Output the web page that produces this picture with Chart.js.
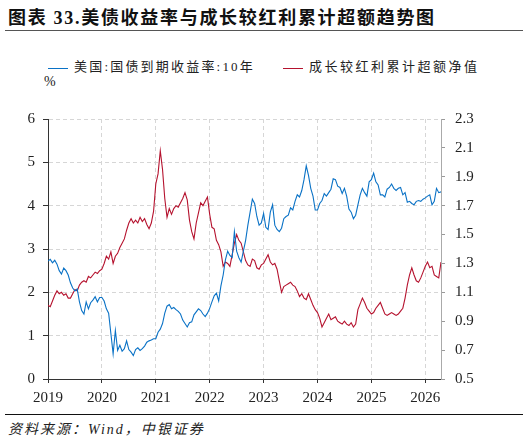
<!DOCTYPE html>
<html lang="zh">
<head>
<meta charset="UTF-8" />
<title>美债收益率与成长较红利累计超额趋势图</title>
<script src="https://cdn.jsdelivr.net/npm/chart.js"></script>
<style>
    body {
        margin: 0;
        width: 528px;
        height: 440px;
        background: #fff;
        position: relative;
        overflow: hidden;
        color: #111;
    }

    .title {
        position: absolute;
        left: 8px;
        top: 3px;
        font-family: 'Liberation Serif', 'Noto Sans CJK SC', serif;
        font-weight: bold;
        font-size: 18px;
        letter-spacing: 1.7px;
        white-space: nowrap;
    }

    .rule-top {
        position: absolute;
        left: 5px;
        top: 30px;
        width: 518px;
        border-top: 1px solid #555;
    }

    .legend {
        position: absolute;
        top: 56px;
        font-family: 'Liberation Serif', 'Noto Sans CJK SC', serif;
        font-size: 13px;
        white-space: nowrap;
        color: #222;
    }

    .legend span.mark {
        display: inline-block;
        width: 20px;
        height: 0;
        border-top: 1.5px solid;
        vertical-align: middle;
        margin-right: 6px;
    }

    .unit {
        position: absolute;
        left: 44px;
        top: 74px;
        font-family: 'Liberation Serif', serif;
        font-size: 14px;
        color: #222;
    }

    #wrap {
        position: absolute;
        left: 0;
        top: 100px;
        width: 528px;
        height: 305px;
    }

    .rule-bottom {
        position: absolute;
        left: 5px;
        top: 414px;
        width: 518px;
        border-top: 1.5px solid #111;
    }

    .source {
        position: absolute;
        left: 8px;
        top: 418px;
        font-family: 'Liberation Serif', 'Noto Sans CJK SC', serif;
        font-style: italic;
        font-size: 14px;
        letter-spacing: 2px;
        color: #222;
    }
</style>
</head>
<body>
<div class="title">图表 33.美债收益率与成长较红利累计超额趋势图</div>
<div class="rule-top"></div>
<div class="legend" style="left:48px; letter-spacing:2.2px;"><span class="mark" style="color:#0a72c6"></span>美国:国债到期收益率:10年</div>
<div class="legend" style="left:283px; letter-spacing:2.5px;"><span class="mark" style="color:#b5122e"></span>成长较红利累计超额净值</div>
<div class="unit">%</div>
<div id="wrap"><canvas id="chart"></canvas></div>
<div class="rule-bottom"></div>
<div class="source">资料来源：Wind，中银证券</div>

<script>
    // half-month steps from 2019-01 to 2026-04
    const dates = [];
    for (let i = 0; i < 176; i++) dates.push(2019 + i / 24);

    // 美国:国债到期收益率:10年 (%)
    const ust10y = [
        2.72, 2.76, 2.68, 2.74, 2.65, 2.50, 2.42, 2.56, 2.50, 2.40, 2.22, 2.10,
        2.03, 2.08, 1.78, 1.58, 1.50, 1.78, 1.62, 1.76, 1.82, 1.90, 1.78, 1.88,
        1.88, 1.80, 1.62, 1.52, 1.05, 0.58, 1.12, 0.66, 0.78, 0.64, 0.70, 0.88,
        0.68, 0.62, 0.54, 0.68, 0.72, 0.66, 0.70, 0.76, 0.85, 0.88, 0.90, 0.93,
        0.93, 1.08, 1.15, 1.28, 1.52, 1.68, 1.72, 1.62, 1.65, 1.60, 1.56, 1.50,
        1.36, 1.28, 1.20, 1.30, 1.32, 1.48, 1.55, 1.62, 1.58, 1.50, 1.44, 1.52,
        1.63, 1.78, 1.92, 1.98, 1.80, 2.15, 2.40, 2.75, 2.95, 2.85, 2.80, 3.40,
        2.95, 2.80, 2.70, 2.95, 3.20, 3.55, 3.85, 4.15, 4.05, 3.75, 3.55, 3.60,
        3.82, 3.50, 3.45, 3.85, 4.02, 3.55, 3.45, 3.40, 3.48, 3.70, 3.75, 3.78,
        3.95, 3.90, 4.10, 4.25, 4.20, 4.35, 4.60, 4.92, 4.70, 4.40, 4.22, 3.90,
        3.90, 4.05, 4.12, 4.28, 4.22, 4.30, 4.38, 4.62, 4.60, 4.45, 4.42, 4.28,
        4.40, 4.22, 3.92, 3.85, 3.70, 3.78, 4.02, 4.25, 4.40, 4.30, 4.22, 4.55,
        4.60, 4.75, 4.55, 4.48, 4.25, 4.25, 4.20, 4.38, 4.42, 4.50, 4.40, 4.35,
        4.40, 4.42, 4.25, 4.30, 4.08, 4.10, 4.05, 4.02, 4.10, 4.12, 4.10, 4.15,
        4.18, 4.22, 4.25, 4.02, 4.10, 4.40, 4.30, 4.32
    ];

    // 成长较红利累计超额净值 (right axis)
    const growthExcess = [
        1.01, 1.00, 1.04, 1.08, 1.11, 1.09, 1.10, 1.08, 1.09, 1.06, 1.06, 1.09,
        1.12, 1.11, 1.15, 1.17, 1.18, 1.17, 1.21, 1.20, 1.22, 1.24, 1.23, 1.25,
        1.26, 1.30, 1.35, 1.33, 1.38, 1.30, 1.35, 1.37, 1.41, 1.44, 1.47, 1.53,
        1.58, 1.61, 1.58, 1.60, 1.58, 1.62, 1.59, 1.61, 1.57, 1.54, 1.58, 1.66,
        1.85, 1.92, 2.08, 1.95, 1.75, 1.62, 1.68, 1.64, 1.68, 1.70, 1.69, 1.72,
        1.75, 1.79, 1.74, 1.60, 1.52, 1.47, 1.58, 1.65, 1.72, 1.70, 1.73, 1.76,
        1.64, 1.55, 1.54, 1.46, 1.43, 1.38, 1.28, 1.31, 1.30, 1.28, 1.36, 1.44,
        1.50, 1.46, 1.44, 1.38, 1.32, 1.29, 1.28, 1.33, 1.32, 1.27, 1.26, 1.29,
        1.30, 1.33, 1.36, 1.31, 1.29, 1.30, 1.26, 1.18, 1.10, 1.14, 1.15, 1.16,
        1.17, 1.15, 1.14, 1.11, 1.07, 1.09, 1.06, 1.05, 1.09, 1.05, 1.01, 0.98,
        0.96, 0.92, 0.86, 0.89, 0.92, 0.95, 0.91, 0.92, 0.93, 0.90, 0.89, 0.88,
        0.90, 0.88, 0.87, 0.89, 0.86, 0.88, 0.98, 1.02, 1.06, 1.03, 0.99, 0.97,
        0.95, 0.96, 0.99, 1.01, 1.03, 0.99, 0.95, 0.94, 0.95, 0.96, 0.95, 0.94,
        0.95, 0.97, 0.99, 1.06, 1.15, 1.22, 1.27, 1.22, 1.18, 1.17, 1.20, 1.24,
        1.28, 1.31, 1.27, 1.28, 1.22, 1.21, 1.20, 1.31
    ];

    const tickFont = { family: 'Liberation Serif', size: 15 };

    new Chart(document.getElementById('chart'), {
        type: 'line',
        data: {
            datasets: [{
                label: '美国:国债到期收益率:10年',
                data: ust10y.map((v, i) => ({ x: dates[i], y: v })),
                borderColor: '#0a72c6',
                borderWidth: 1.1,
                pointRadius: 0,
                tension: 0,
                yAxisID: 'y'
            }, {
                label: '成长较红利累计超额净值',
                data: growthExcess.map((v, i) => ({ x: dates[i], y: v })),
                borderColor: '#b5122e',
                borderWidth: 1.1,
                pointRadius: 0,
                tension: 0,
                yAxisID: 'y1'
            }]
        },
        options: {
            responsive: true,
            maintainAspectRatio: false,
            animation: false,
            layout: { padding: { top: 12, left: 0, right: 0, bottom: 0 } },
            plugins: {
                legend: { display: false },
                tooltip: { enabled: false }
            },
            scales: {
                x: {
                    type: 'linear',
                    min: dates[0],
                    max: dates[dates.length - 1],
                    ticks: {
                        stepSize: 1,
                        includeBounds: false,
                        autoSkip: false,
                        maxRotation: 0,
                        padding: 6,
                        color: '#222',
                        font: tickFont,
                        callback: v => String(v)
                    },
                    grid: {
                        color: '#d6d6d6',
                        tickColor: '#333',
                        tickLength: 4,
                        tickBorderDash: []
                    },
                    border: { color: '#333', width: 1, dash: [4, 3] },
                    afterFit: s => { s.height = 26; }
                },
                y: {
                    position: 'left',
                    min: 0,
                    max: 6,
                    ticks: { stepSize: 1, padding: 8, color: '#222', font: tickFont },
                    grid: {
                        color: '#d6d6d6',
                        tickColor: '#333',
                        tickLength: 5,
                        tickBorderDash: []
                    },
                    border: { color: '#333', width: 1, dash: [4, 3] },
                    afterFit: s => { s.width = 48; }
                },
                y1: {
                    position: 'right',
                    min: 0.5,
                    max: 2.3,
                    ticks: {
                        stepSize: 0.2,
                        padding: 10,
                        color: '#222',
                        font: tickFont,
                        callback: v => v.toFixed(1)
                    },
                    grid: {
                        drawOnChartArea: false,
                        color: '#999',
                        tickColor: '#999',
                        tickLength: 4
                    },
                    border: { color: '#aaa', width: 1 },
                    afterFit: s => { s.width = 87; }
                }
            }
        }
    });
</script>
</body>
</html>
